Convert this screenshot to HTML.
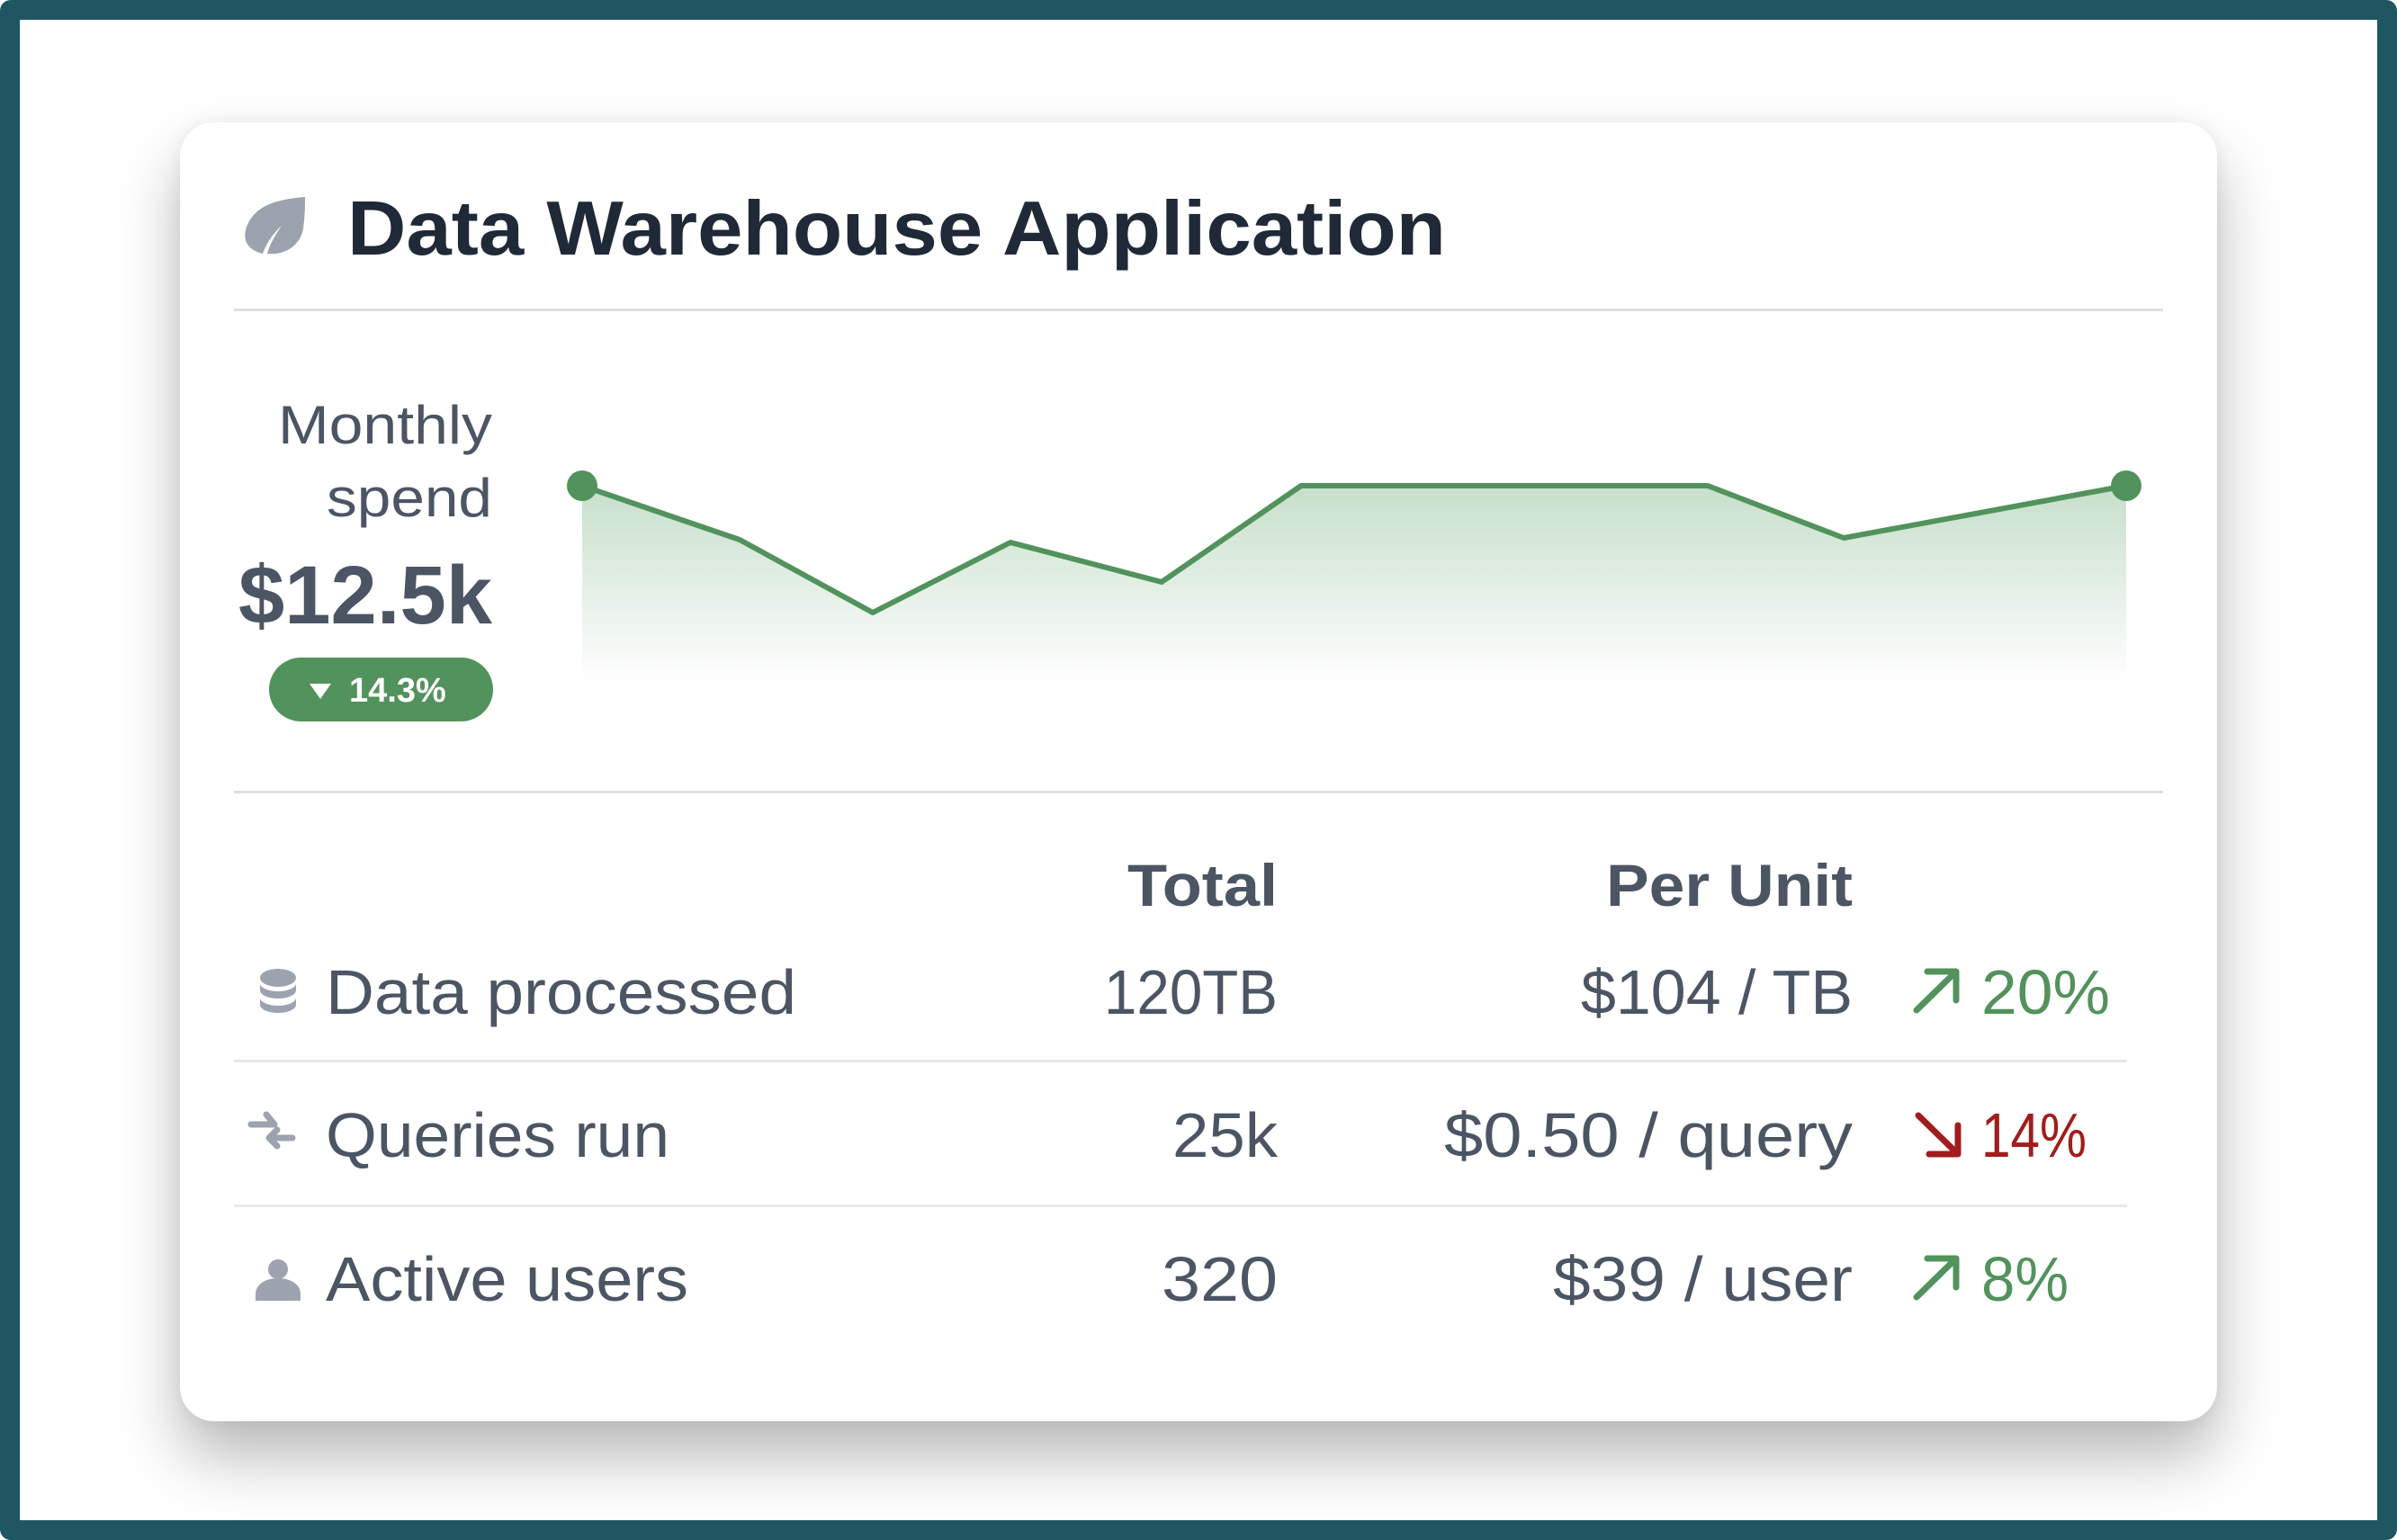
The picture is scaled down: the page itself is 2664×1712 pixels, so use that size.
<!DOCTYPE html>
<html><head><meta charset="utf-8"><style>
html,body{margin:0;padding:0;background:#fff}
body{width:2664px;height:1712px;position:relative;overflow:hidden}
.frame{position:absolute;left:0;top:0;width:2664px;height:1712px;box-sizing:border-box;border:22px solid #1e5662;border-radius:12px}
.card{position:absolute;left:200px;top:136px;width:2264px;height:1444px;background:#fff;border-radius:38px;box-shadow:0 40px 70px rgba(0,0,0,0.28),0 0 20px rgba(0,0,0,0.06)}
svg{position:absolute;left:0;top:0}
text{font-family:"Liberation Sans",sans-serif}
</style></head><body>
<div class="frame"></div>
<div class="card"></div>
<svg width="2664" height="1712" viewBox="0 0 2664 1712">
<defs><linearGradient id="g" x1="0" y1="0" x2="0" y2="1">
<stop offset="0" stop-color="#4f9a5c" stop-opacity="0.32"/>
<stop offset="1" stop-color="#4f9a5c" stop-opacity="0"/></linearGradient></defs>
<path d="M339,219 C300,222 283,232 275,250 C268,266 275,278 292,282 C296,270 305,258 313,251 C305,262 299,274 297,282 C318,284 334,272 337,254 C339,240 339,228 339,219 Z" fill="#9ca3af"/>
<text x="386" y="283" font-size="85" font-weight="bold" fill="#1f2937" textLength="1221" lengthAdjust="spacingAndGlyphs">Data Warehouse Application</text>
<rect x="260" y="343" width="2144" height="3" fill="#dcdfe3"/>
<text x="309" y="493" font-size="60" fill="#4b5563" textLength="238" lengthAdjust="spacingAndGlyphs">Monthly</text>
<text x="363" y="574" font-size="60" fill="#4b5563" textLength="184" lengthAdjust="spacingAndGlyphs">spend</text>
<text x="547" y="693" font-size="92" font-weight="bold" fill="#4b5563" text-anchor="end" textLength="282" lengthAdjust="spacingAndGlyphs">$12.5k</text>
<rect x="299" y="731" width="249" height="71" rx="35.5" fill="#52925c"/>
<path d="M344,760 L368,760 L356,777 Z" fill="#fff"/>
<text x="388" y="780" font-size="38" font-weight="bold" fill="#fff">14.3%</text>
<path d="M647,540 L822,600 L970,681 L1123,603 L1291,647 L1446,540 L1898,540 L2049,598 L2363,540 L2363,760 L647,760 Z" fill="url(#g)"/>
<polyline points="647,540 822,600 970,681 1123,603 1291,647 1446,540 1898,540 2049,598 2363,540" fill="none" stroke="#52925c" stroke-width="6" stroke-linejoin="round"/>
<circle cx="647" cy="540" r="17" fill="#52925c"/>
<circle cx="2363" cy="540" r="17" fill="#52925c"/>
<rect x="260" y="879" width="2144" height="3" fill="#dcdfe3"/>
<text x="1253" y="1007" font-size="66" font-weight="bold" fill="#4b5563" textLength="167" lengthAdjust="spacingAndGlyphs">Total</text>
<text x="1785" y="1007" font-size="66" font-weight="bold" fill="#4b5563" textLength="274" lengthAdjust="spacingAndGlyphs">Per Unit</text>
<g fill="#9ca3af"><ellipse cx="309" cy="1087" rx="20" ry="10"/><path d="M289,1093 v8 a20,9 0 0 0 40,0 v-8 a20,9 0 0 1 -40,0z"/><path d="M289,1109 v8 a20,9 0 0 0 40,0 v-8 a20,9 0 0 1 -40,0z"/></g>
<text x="362" y="1127" font-size="70" fill="#4b5563" textLength="523" lengthAdjust="spacingAndGlyphs">Data processed</text>
<text x="1227" y="1127" font-size="70" fill="#4b5563" textLength="193" lengthAdjust="spacingAndGlyphs">120TB</text>
<text x="1757" y="1127" font-size="70" fill="#4b5563" textLength="302" lengthAdjust="spacingAndGlyphs">$104 / TB</text>
<path d="M2130,1123 L2174,1080 M2142,1080 L2174,1080 L2174,1112" stroke="#52925c" stroke-width="7" fill="none" stroke-linecap="round" stroke-linejoin="round"/>
<text x="2202" y="1127" font-size="70" fill="#52925c" textLength="143" lengthAdjust="spacingAndGlyphs">20%</text>
<rect x="260" y="1178" width="2104" height="3" fill="#e7e8ea"/>
<g stroke="#9ca3af" stroke-width="7" fill="none" stroke-linecap="round" stroke-linejoin="round"><path d="M279,1250 L305,1250 M296,1239 L305,1250"/><path d="M308,1256 L299,1265 L325,1265 M299,1265 L308,1274"/></g>
<text x="362" y="1286" font-size="70" fill="#4b5563" textLength="382" lengthAdjust="spacingAndGlyphs">Queries run</text>
<text x="1303" y="1286" font-size="70" fill="#4b5563" textLength="117" lengthAdjust="spacingAndGlyphs">25k</text>
<text x="1605" y="1286" font-size="70" fill="#4b5563" textLength="454" lengthAdjust="spacingAndGlyphs">$0.50 / query</text>
<path d="M2132,1240 L2176,1283 M2144,1283 L2176,1283 L2176,1251" stroke="#a11d1d" stroke-width="7" fill="none" stroke-linecap="round" stroke-linejoin="round"/>
<text x="2202" y="1286" font-size="70" fill="#a11d1d" textLength="117" lengthAdjust="spacingAndGlyphs">14%</text>
<rect x="260" y="1339" width="2104" height="3" fill="#e7e8ea"/>
<g fill="#9ca3af"><circle cx="309" cy="1411" r="11"/><path d="M284,1446 v-7 c0,-12 12,-18 25,-18 c13,0 25,6 25,18 v7 z"/></g>
<text x="362" y="1446" font-size="70" fill="#4b5563" textLength="403" lengthAdjust="spacingAndGlyphs">Active users</text>
<text x="1291" y="1446" font-size="70" fill="#4b5563" textLength="129" lengthAdjust="spacingAndGlyphs">320</text>
<text x="1726" y="1446" font-size="70" fill="#4b5563" textLength="333" lengthAdjust="spacingAndGlyphs">$39 / user</text>
<path d="M2130,1442 L2174,1399 M2142,1399 L2174,1399 L2174,1431" stroke="#52925c" stroke-width="7" fill="none" stroke-linecap="round" stroke-linejoin="round"/>
<text x="2202" y="1446" font-size="70" fill="#52925c" textLength="97" lengthAdjust="spacingAndGlyphs">8%</text>
</svg>
</body></html>
